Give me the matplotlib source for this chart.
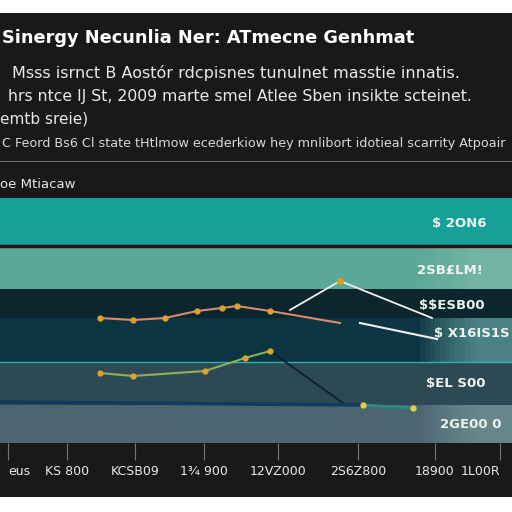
import matplotlib
matplotlib.use("Agg")
import matplotlib.pyplot as plt
from matplotlib.patches import Rectangle
import numpy as np

plt.rcParams['text.parse_math'] = False

# ---- data ----
title = "Sinergy Necunlia Ner: ATmecne Genhmat"
subtitle_lines = ["Msss isrnct B Aostór rdcpisnes tunulnet masstie innatis.",
                  "hrs ntce IJ St, 2009 marte smel Atlee Sben insikte scteinet.",
                  "emtb sreie)"]
source_text = "C Feord Bs6 Cl state tHtlmow ecederkiow hey mnlibort idotieal scarrity Atpoair"
section_label = "oe Mtiacaw"

band_lo = [198, 154, 125, 81, 38, 0]
band_hi = [245, 195, 154, 125, 81, 38]
band_colors = ["#16a098", "#5aa897", "#0b262c", "#0d3541", "#2c4954", "#4b6670"]

band_labels = ["$ 2ON6", "2SB£LM!", "$$ESB00", "$ X16IS1S", "$EL S00", "2GE00 0"]
band_label_y = [219, 173, 138, 110, 60, 18]
band_label_x = [487, 483, 485, 510, 485, 502]

xticks = [8, 67, 135, 204, 278, 358, 435, 500]
xtick_labels = ["eus", "KS 800", "KCSB09", "1¾ 900", "12VZ000", "2S6Z800", "18900", "1L00R"]

lineA_x = [100, 133, 165, 197, 222, 237, 270, 340]
lineA_y = [125, 123, 125, 132, 135, 137, 132, 120]
lineB_x = [290, 340, 432]
lineB_y = [133, 162, 125]
lineC_x = [360, 437]
lineC_y = [120, 104]
lineD_x = [100, 133, 205, 245, 270]
lineD_y = [70, 67, 72, 85, 92]
lineE_x = [270, 343]
lineE_y = [92, 40]
lineF_x = [0, 363]
lineF_y = [41, 38]
lineG_x = [363, 413]
lineG_y = [38, 35]

fig = plt.figure(figsize=(5.12, 5.12), dpi=100)
fig.patch.set_facecolor("white")
fig.add_artist(Rectangle((0, 15/512), 1, 484/512, transform=fig.transFigure,
                         facecolor="#191919", edgecolor="none", zorder=0))

ax = fig.add_axes([0, 69/512, 1, 245/512])
ax.set_xlim(0, 512)
ax.set_ylim(0, 245)
ax.set_facecolor("#191919")
for lo, hi, c in zip(band_lo, band_hi, band_colors):
    ax.axhspan(lo, hi, color=c, zorder=0, lw=0)
ax.axhline(197, color="#2a1612", lw=2.5, zorder=1)
ax.axhline(81, color="#2ab0b8", lw=1, zorder=1)
# right-side glow
for i in range(12):
    ax.add_patch(Rectangle((420 + i*5, 81), 100, 44, facecolor="#8fd0cc", alpha=0.06,
                           edgecolor="none", zorder=1))
    ax.add_patch(Rectangle((420 + i*5, 0), 100, 38, facecolor="#9fc8c8", alpha=0.04,
                           edgecolor="none", zorder=1))
    ax.add_patch(Rectangle((420 + i*5, 154), 100, 41, facecolor="#bfe0d8", alpha=0.03,
                           edgecolor="none", zorder=1))

ax.plot(lineA_x, lineA_y, color="#d98a70", lw=1.5, zorder=3)
ax.plot(lineA_x[:-1], lineA_y[:-1], ls="none", marker="o", ms=3.5, color="#e0a030", zorder=4)
ax.plot(lineB_x, lineB_y, color="#f0f0f0", lw=1.3, zorder=3)
ax.plot(lineB_x[1:2], lineB_y[1:2], ls="none", marker="o", ms=4, color="#e0a020", zorder=4)
ax.plot(lineC_x, lineC_y, color="#f0f0f0", lw=1.5, zorder=3)
ax.plot(lineD_x, lineD_y, color="#8fae5a", lw=1.5, zorder=3)
ax.plot(lineD_x, lineD_y, ls="none", marker="o", ms=3.5, color="#e0a030", zorder=4)
ax.plot(lineE_x, lineE_y, color="#10202a", lw=1.3, zorder=3)
ax.plot(lineF_x, lineF_y, color="#123a5e", lw=2.5, zorder=3)
ax.plot(lineG_x, lineG_y, color="#2a8a80", lw=2, zorder=3)
ax.plot(lineG_x, lineG_y, ls="none", marker="o", ms=3.5, color="#e8d040", zorder=4)

for lab, x, y in zip(band_labels, band_label_x, band_label_y):
    ax.text(x, y, lab, color="#eef2f0", fontsize=9.5, ha="right", va="center",
            fontweight="semibold", zorder=5)

ax.set_xticks(xticks)
ax.set_xticklabels(xtick_labels)
ax.set_yticks([])
ax.tick_params(axis="x", colors="#777777", length=12, width=0.8, labelsize=9,
               labelcolor="#e8e8e8", pad=4)
tl = ax.get_xticklabels()
tl[0].set_ha("left")
tl[-1].set_ha("right")
for s in ax.spines.values():
    s.set_visible(False)

# header text
fig.text(2/512, 1 - 38/512, title, color="white", fontsize=12.8, fontweight="bold",
         va="center", ha="left")
fig.text(12/512, 1 - 73/512, subtitle_lines[0], color="#e8e8e8", fontsize=11.5,
         va="center", ha="left")
fig.text(8/512, 1 - 97/512, subtitle_lines[1], color="#e8e8e8", fontsize=11.3,
         va="center", ha="left")
fig.text(0, 1 - 119/512, subtitle_lines[2], color="#e8e8e8", fontsize=11,
         va="center", ha="left")
fig.text(2/512, 1 - 144/512, source_text, color="#d8d8d8", fontsize=9.2, va="center", ha="left")
fig.add_artist(plt.Line2D([0, 1], [1 - 161/512, 1 - 161/512], transform=fig.transFigure,
                          color="#666666", lw=0.8))
fig.text(0, 1 - 184/512, section_label, color="#e8e8e8", fontsize=9.5, va="center", ha="left")

fig.savefig("out.png", dpi=100, facecolor=fig.get_facecolor())
